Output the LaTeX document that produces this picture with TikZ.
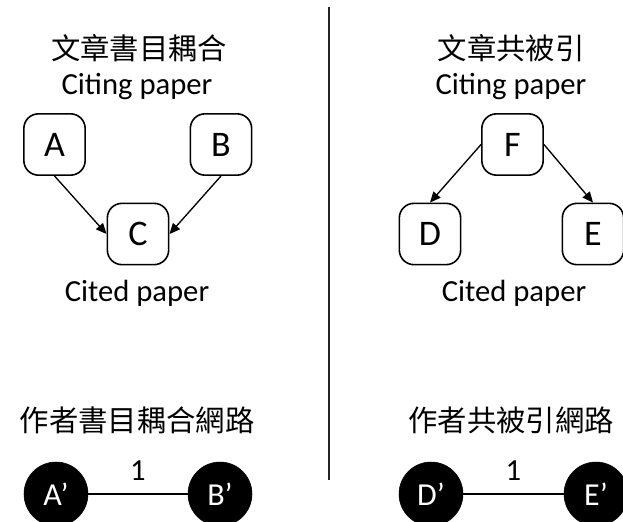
\documentclass[tikz,border=0pt]{standalone}
\usepackage{fontspec}
\setmainfont{Carlito}
\newfontfamily\cjk{Noto Sans CJK TC}
\usetikzlibrary{arrows.meta}

\begin{document}
\begin{tikzpicture}[x=0.75pt,y=-0.75pt,
  paper/.style={draw,line width=1.2pt,rounded corners=11pt,minimum size=46pt,inner sep=0pt,font=\fontsize{27}{30}\selectfont},
  author/.style={circle,draw,fill=black,text=white,minimum size=48pt,inner sep=0pt,font=\fontsize{24}{28}\selectfont},
  cite/.style={-{Triangle[length=8pt,width=7pt]},line width=1pt},
  txt/.style={font=\fontsize{23}{26}\selectfont},
  head/.style={font=\cjk\fontsize{22}{26}\selectfont}]
\useasboundingbox (0,0) rectangle (623,521);
% divider
\coordinate (top) at (329,7);
\coordinate (bot) at (329,480);
\draw[line width=1.3pt,black!85] (top) -- (bot);
% bibliographic coupling
\node[head] (bchead) at (139,48) {文章書目耦合};
\node[txt] (bcciting) at (137,87) {Citing paper};
\node[paper] (A) at (54.5,144.5) {A};
\node[paper] (B) at (221,144.5) {B};
\node[paper] (C) at (138,234) {C};
\node[txt] (bccited) at (137,293) {Cited paper};
\draw[cite] (A.south) -- (C.west);
\draw[cite] (B.south) -- (C.east);
% co-citation
\node[head] (cchead) at (511,48) {文章共被引};
\node[txt] (ccciting) at (511,87) {Citing paper};
\node[paper] (F) at (512.5,144.5) {F};
\node[paper] (D) at (430,234) {D};
\node[paper] (E) at (593,234) {E};
\node[txt] (cccited) at (514,293) {Cited paper};
\draw[cite] (F.west) -- (D.north);
\draw[cite] (F.east) -- (E.north);
% author bibliographic coupling network
\node[head] (abhead) at (137,420) {作者書目耦合網路};
\node[author] (A') at (56,494) {A’};
\node[author] (B') at (220,494) {B’};
\draw[line width=1pt] (A') -- node[txt,above=6pt] (w1) {1} (B');
% author co-citation network
\node[head] (achead) at (511,420) {作者共被引網路};
\node[author] (D') at (431,494) {D’};
\node[author] (E') at (596,494) {E’};
\draw[line width=1pt] (D') -- node[txt,above=6pt] (w2) {1} (E');
\end{tikzpicture}
\end{document}
